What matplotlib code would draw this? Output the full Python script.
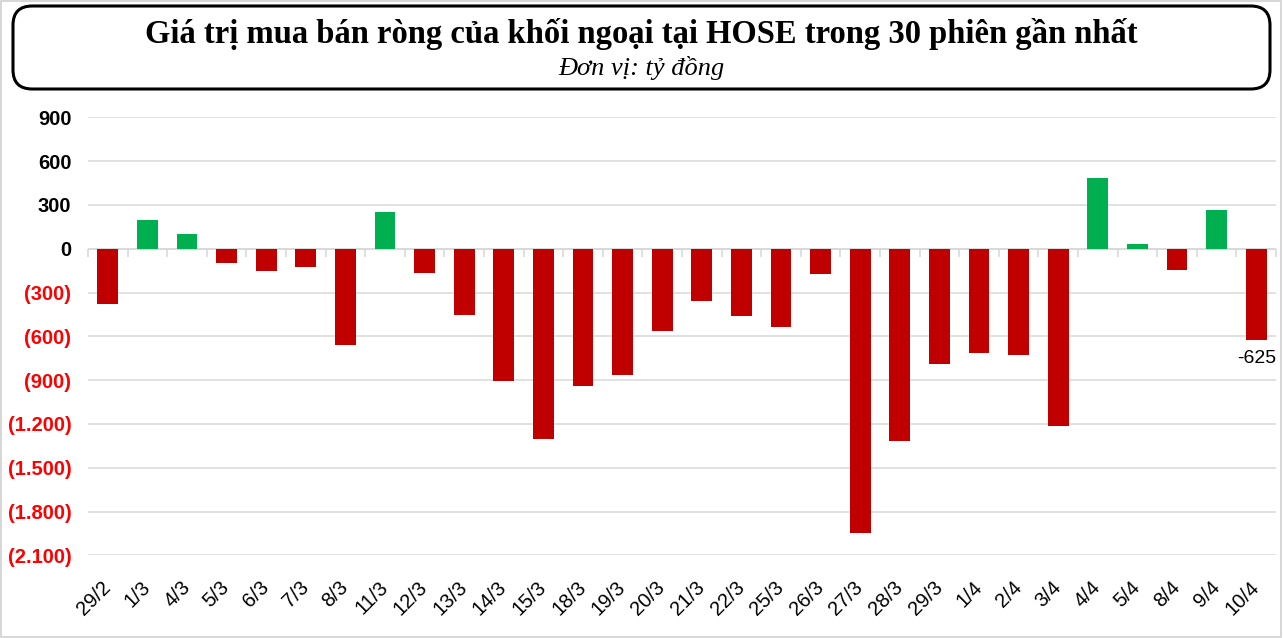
import numpy as np
import matplotlib.pyplot as plt
from matplotlib.patches import FancyBboxPatch, Rectangle
from matplotlib.ticker import FuncFormatter, FixedLocator

# net foreign buy/sell on HOSE, bn VND
sessions = ['29/2', '1/3', '4/3', '5/3', '6/3', '7/3', '8/3', '11/3', '12/3', '13/3',
            '14/3', '15/3', '18/3', '19/3', '20/3', '21/3', '22/3', '25/3', '26/3', '27/3',
            '28/3', '29/3', '1/4', '2/4', '3/4', '4/4', '5/4', '8/4', '9/4', '10/4']
net_values = [-378, 200, 104, -98, -155, -128, -660, 248, -168, -455,
              -906, -1302, -940, -865, -563, -360, -462, -537, -176, -1949,
              -1315, -790, -715, -728, -1215, 487, 29, -146, 268, -625]
y_ticks = [900, 600, 300, 0, -300, -600, -900, -1200, -1500, -1800, -2100]

title = 'Giá trị mua bán ròng của khối ngoại tại HOSE trong 30 phiên gần nhất'
subtitle = 'Đơn vị: tỷ đồng'

RED = '#C00000'
GREEN = '#00B050'

fig = plt.figure(figsize=(12.83, 6.38), dpi=100)
fig.patch.set_facecolor('white')
fig.patches.append(Rectangle((0.0008, 0.0015), 0.998, 0.997, transform=fig.transFigure,
                             fill=False, edgecolor='#D0D0D0', lw=1.2))

ax = fig.add_axes([88 / 1283, 82.7 / 638, 1188 / 1283, 438 / 638])
x = np.arange(len(sessions))
colors = [GREEN if v >= 0 else RED for v in net_values]
ax.bar(x, net_values, width=0.53, color=colors, zorder=3)

ax.set_xlim(-0.5, len(sessions) - 0.5)
ax.set_ylim(min(y_ticks), max(y_ticks))
ax.yaxis.set_major_locator(FixedLocator(y_ticks))


def fmt(v, pos):
    s = f'{abs(int(round(v))):,}'.replace(',', '.')
    return f'({s})' if v < 0 else s


ax.yaxis.set_major_formatter(FuncFormatter(fmt))
ax.grid(axis='y', color='#D9D9D9', lw=1.1, zorder=0)
for s in ax.spines.values():
    s.set_visible(False)
ax.tick_params(axis='y', length=0, pad=12)
for lbl, v in zip(ax.get_yticklabels(), y_ticks):
    lbl.set_fontfamily('Liberation Sans')
    lbl.set_fontweight('bold')
    lbl.set_fontsize(14.5)
    lbl.set_color('#FF0000' if v < 0 else 'black')

ax.set_xticks(x)
ax.set_xticklabels(sessions, rotation=45, ha='right', va='center', rotation_mode='anchor',
                   fontsize=14.5, fontfamily='Liberation Sans')
ax.tick_params(axis='x', length=0, pad=21)

# category axis crossing at zero, with boundary ticks
ax.axhline(0, color='#D9D9D9', lw=1.3, zorder=2)
zero_frac = (0 - min(y_ticks)) / (max(y_ticks) - min(y_ticks))
sec = ax.secondary_xaxis(zero_frac)
sec.spines['top'].set_visible(False)
sec.spines['bottom'].set_visible(False)
sec.set_xticks(np.arange(len(sessions) + 1) - 0.5)
sec.tick_params(axis='x', direction='out', length=6, color='#D9D9D9', width=1.2,
                labelbottom=False, labeltop=False, bottom=True, top=False)

# data label for last session
ax.annotate(f'{net_values[-1]}', (x[-1], net_values[-1]), xytext=(0, -7),
            textcoords='offset points', ha='center', va='top',
            fontsize=14, fontfamily='Liberation Sans', color='black')

# title box
box = FancyBboxPatch((13 / 1283, 549 / 638), 1257 / 1283, 83 / 638,
                     boxstyle='round,pad=0,rounding_size=0.015',
                     transform=fig.transFigure, fill=False, edgecolor='black', lw=2.2,
                     mutation_aspect=2.0)
fig.patches.append(box)
fig.text(0.5, 1 - 34 / 638, title, ha='center', va='center', fontsize=23.5,
         fontweight='bold', fontfamily='Liberation Serif')
fig.text(0.5, 1 - 68 / 638, subtitle, ha='center', va='center', fontsize=19,
         fontstyle='italic', fontfamily='Liberation Serif')

fig.savefig('out.png', dpi=100)
